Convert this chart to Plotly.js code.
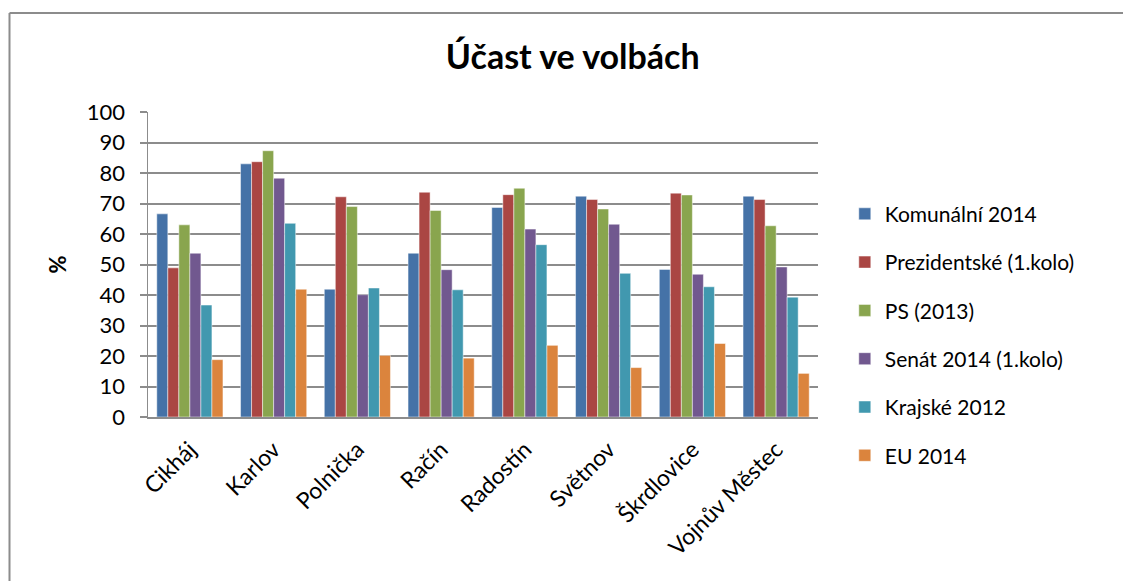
<!DOCTYPE html>
<html>
<head>
<meta charset="utf-8">
<script src="https://cdn.plot.ly/plotly-3.0.1.min.js"></script>
<style>
  html, body { margin: 0; padding: 0; background: #fff; }
  #chart { width: 1123px; height: 581px; }
</style>
</head>
<body>
<div id="chart"></div>
<script>
const categories = ["Cikháj", "Karlov", "Polnička", "Račín", "Radostín", "Světnov", "Škrdlovice", "Vojnův Městec"];
const seriesNames = ["Komunální 2014", "Prezidentské (1.kolo)", "PS (2013)", "Senát 2014 (1.kolo)", "Krajské 2012", "EU 2014"];
const komunalni2014 = [66.6, 83.0, 41.9, 53.7, 68.7, 72.4, 48.4, 72.4];
const prezidentske = [48.9, 83.7, 72.2, 73.7, 72.9, 71.3, 73.4, 71.3];
const ps2013 = [63.0, 87.3, 69.0, 67.7, 75.0, 68.2, 72.8, 62.7];
const senat2014 = [53.7, 78.3, 40.1, 48.3, 61.6, 63.2, 46.8, 49.2];
const krajske2012 = [36.7, 63.5, 42.3, 41.7, 56.5, 47.1, 42.7, 39.3];
const eu2014 = [18.8, 41.9, 20.2, 19.3, 23.5, 16.2, 24.1, 14.3];
const yTicks = [0, 10, 20, 30, 40, 50, 60, 70, 80, 90, 100];

const seriesValues = [komunalni2014, prezidentske, ps2013, senat2014, krajske2012, eu2014];
const colors = ["#4572A7", "#AA4643", "#89A54E", "#71588F", "#4198AF", "#DB843D"];
const FONT = "Lato, 'Open Sans', sans-serif";

const traces = seriesValues.map((vals, i) => ({
  type: "bar",
  name: seriesNames[i],
  x: categories,
  y: vals,
  legendgroup: "g" + i,
  marker: { color: colors[i], line: { color: "rgba(255,255,255,0.6)", width: 0.8 } },
  hoverinfo: "x+y+name"
}));

const layout = {
  width: 1123,
  height: 581,
  paper_bgcolor: "#fff",
  plot_bgcolor: "#fff",
  font: { family: FONT, size: 21, color: "#000" },
  margin: { l: 148, r: 305, t: 112, b: 164, pad: 0 },
  title: {
    text: "<b>Účast ve volbách</b>",
    font: { family: FONT, size: 34, color: "#000" },
    x: 0.634, xref: "paper", xanchor: "center",
    y: 1 - 57 / 581, yref: "container", yanchor: "middle"
  },
  barmode: "group",
  bargap: 0.21,
  bargroupgap: 0,
  showlegend: true,
  legend: {
    x: 1.04, xanchor: "left",
    y: 0.27, yanchor: "middle", yref: "paper",
    traceorder: "grouped",
    tracegroupgap: 18,
    font: { family: FONT, size: 21, color: "#000" },
    itemwidth: 30,
    bgcolor: "rgba(0,0,0,0)"
  },
  xaxis: {
    type: "category",
    tickangle: -45,
    showline: true,
    linecolor: "#8c8c8c",
    linewidth: 2,
    ticks: "",
    showgrid: false,
    ticklabelstandoff: 8,
    tickfont: { family: FONT, size: 23, color: "#000" },
    fixedrange: true
  },
  yaxis: {
    range: [0, 100],
    tickvals: yTicks,
    ticktext: yTicks.map(String),
    showline: true,
    linecolor: "#8c8c8c",
    linewidth: 1.5,
    ticks: "outside",
    ticklen: 7,
    tickcolor: "#8c8c8c",
    tickwidth: 2,
    ticklabelstandoff: 10,
    showgrid: true,
    gridcolor: "#8c8c8c",
    gridwidth: 2,
    zeroline: false,
    tickfont: { family: FONT, size: 22, color: "#000" },
    title: { text: "<b>%</b>", font: { family: FONT, size: 22, color: "#000" }, standoff: 14 },
    fixedrange: true
  },
  shapes: [
    { type: "line", xref: "paper", yref: "paper",
      x0: (9.5 - 148) / 670, x1: (1123 - 148) / 670,
      y0: (581 - 164 - 13) / 305, y1: (581 - 164 - 13) / 305,
      line: { color: "#8c8c8c", width: 2 } },
    { type: "line", xref: "paper", yref: "paper",
      x0: (9.5 - 148) / 670, x1: (9.5 - 148) / 670,
      y0: (581 - 164 - 13) / 305, y1: (581 - 164 - 581) / 305,
      line: { color: "#8c8c8c", width: 2 } }
  ]
};

Plotly.newPlot("chart", traces, layout, { displayModeBar: false, staticPlot: true });
</script>
</body>
</html>
